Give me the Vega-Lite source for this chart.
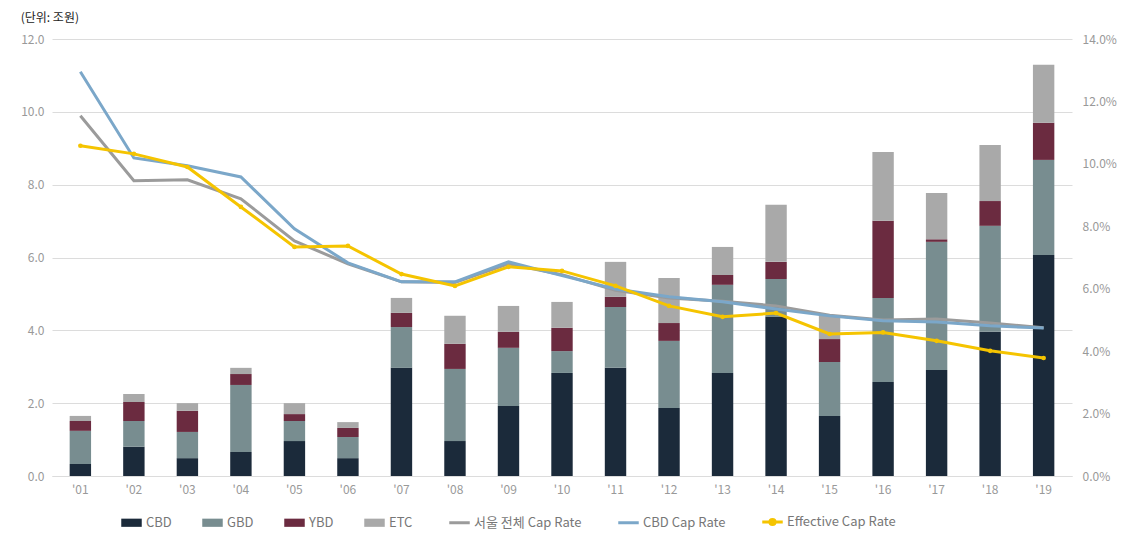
{
  "$schema": "https://vega.github.io/schema/vega-lite/v6.json",
  "width": 1020,
  "height": 437,
  "padding": {"left": 20, "top": 12, "right": 4, "bottom": 4},
  "background": "white",
  "title": {"text": "(단위: 조원)", "anchor": "start", "frame": "bounds", "font": "Noto Sans CJK KR", "fontSize": 12, "fontWeight": "normal", "color": "#222222", "offset": 8},
  "config": {
    "font": "Noto Sans CJK KR",
    "view": {"stroke": null},
    "axis": {"labelFont": "Noto Sans CJK KR", "labelFontSize": 12, "labelColor": "#999999", "ticks": false, "domain": false, "gridColor": "#dcdcdc", "gridWidth": 1},
    "legend": {"labelFont": "Noto Sans CJK KR", "labelFontSize": 13, "labelColor": "#777777"}
  },
  "datasets": {
    "types": [
      {"type": "CBD", "rank": 1}, {"type": "GBD", "rank": 2}, {"type": "YBD", "rank": 3}, {"type": "ETC", "rank": 4}
    ],
    "bars": [
      {"year": "'01", "type": "CBD", "value": 0.33}, {"year": "'01", "type": "GBD", "value": 0.91}, {"year": "'01", "type": "YBD", "value": 0.27}, {"year": "'01", "type": "ETC", "value": 0.14},
      {"year": "'02", "type": "CBD", "value": 0.80}, {"year": "'02", "type": "GBD", "value": 0.71}, {"year": "'02", "type": "YBD", "value": 0.52}, {"year": "'02", "type": "ETC", "value": 0.22},
      {"year": "'03", "type": "CBD", "value": 0.49}, {"year": "'03", "type": "GBD", "value": 0.72}, {"year": "'03", "type": "YBD", "value": 0.58}, {"year": "'03", "type": "ETC", "value": 0.21},
      {"year": "'04", "type": "CBD", "value": 0.66}, {"year": "'04", "type": "GBD", "value": 1.84}, {"year": "'04", "type": "YBD", "value": 0.30}, {"year": "'04", "type": "ETC", "value": 0.17},
      {"year": "'05", "type": "CBD", "value": 0.96}, {"year": "'05", "type": "GBD", "value": 0.55}, {"year": "'05", "type": "YBD", "value": 0.19}, {"year": "'05", "type": "ETC", "value": 0.30},
      {"year": "'06", "type": "CBD", "value": 0.49}, {"year": "'06", "type": "GBD", "value": 0.58}, {"year": "'06", "type": "YBD", "value": 0.25}, {"year": "'06", "type": "ETC", "value": 0.16},
      {"year": "'07", "type": "CBD", "value": 2.97}, {"year": "'07", "type": "GBD", "value": 1.12}, {"year": "'07", "type": "YBD", "value": 0.39}, {"year": "'07", "type": "ETC", "value": 0.41},
      {"year": "'08", "type": "CBD", "value": 0.96}, {"year": "'08", "type": "GBD", "value": 1.98}, {"year": "'08", "type": "YBD", "value": 0.69}, {"year": "'08", "type": "ETC", "value": 0.77},
      {"year": "'09", "type": "CBD", "value": 1.92}, {"year": "'09", "type": "GBD", "value": 1.60}, {"year": "'09", "type": "YBD", "value": 0.44}, {"year": "'09", "type": "ETC", "value": 0.71},
      {"year": "'10", "type": "CBD", "value": 2.83}, {"year": "'10", "type": "GBD", "value": 0.60}, {"year": "'10", "type": "YBD", "value": 0.64}, {"year": "'10", "type": "ETC", "value": 0.71},
      {"year": "'11", "type": "CBD", "value": 2.97}, {"year": "'11", "type": "GBD", "value": 1.67}, {"year": "'11", "type": "YBD", "value": 0.28}, {"year": "'11", "type": "ETC", "value": 0.96},
      {"year": "'12", "type": "CBD", "value": 1.87}, {"year": "'12", "type": "GBD", "value": 1.84}, {"year": "'12", "type": "YBD", "value": 0.49}, {"year": "'12", "type": "ETC", "value": 1.24},
      {"year": "'13", "type": "CBD", "value": 2.83}, {"year": "'13", "type": "GBD", "value": 2.42}, {"year": "'13", "type": "YBD", "value": 0.27}, {"year": "'13", "type": "ETC", "value": 0.77},
      {"year": "'14", "type": "CBD", "value": 4.37}, {"year": "'14", "type": "GBD", "value": 1.04}, {"year": "'14", "type": "YBD", "value": 0.47}, {"year": "'14", "type": "ETC", "value": 1.57},
      {"year": "'15", "type": "CBD", "value": 1.65}, {"year": "'15", "type": "GBD", "value": 1.48}, {"year": "'15", "type": "YBD", "value": 0.63}, {"year": "'15", "type": "ETC", "value": 0.66},
      {"year": "'16", "type": "CBD", "value": 2.58}, {"year": "'16", "type": "GBD", "value": 2.31}, {"year": "'16", "type": "YBD", "value": 2.12}, {"year": "'16", "type": "ETC", "value": 1.89},
      {"year": "'17", "type": "CBD", "value": 2.91}, {"year": "'17", "type": "GBD", "value": 3.52}, {"year": "'17", "type": "YBD", "value": 0.07}, {"year": "'17", "type": "ETC", "value": 1.27},
      {"year": "'18", "type": "CBD", "value": 3.96}, {"year": "'18", "type": "GBD", "value": 2.91}, {"year": "'18", "type": "YBD", "value": 0.68}, {"year": "'18", "type": "ETC", "value": 1.54},
      {"year": "'19", "type": "CBD", "value": 6.07}, {"year": "'19", "type": "GBD", "value": 2.61}, {"year": "'19", "type": "YBD", "value": 1.02}, {"year": "'19", "type": "ETC", "value": 1.59}
    ],
    "lines": [
      {"year": "'01", "series": "서울 전체 Cap Rate", "rate": 0.1154}, {"year": "'02", "series": "서울 전체 Cap Rate", "rate": 0.0946}, {"year": "'03", "series": "서울 전체 Cap Rate", "rate": 0.0949}, {"year": "'04", "series": "서울 전체 Cap Rate", "rate": 0.0888}, {"year": "'05", "series": "서울 전체 Cap Rate", "rate": 0.0753}, {"year": "'06", "series": "서울 전체 Cap Rate", "rate": 0.068}, {"year": "'07", "series": "서울 전체 Cap Rate", "rate": 0.0622}, {"year": "'08", "series": "서울 전체 Cap Rate", "rate": 0.062}, {"year": "'09", "series": "서울 전체 Cap Rate", "rate": 0.068}, {"year": "'10", "series": "서울 전체 Cap Rate", "rate": 0.0645}, {"year": "'11", "series": "서울 전체 Cap Rate", "rate": 0.0595}, {"year": "'12", "series": "서울 전체 Cap Rate", "rate": 0.057}, {"year": "'13", "series": "서울 전체 Cap Rate", "rate": 0.056}, {"year": "'14", "series": "서울 전체 Cap Rate", "rate": 0.0545}, {"year": "'15", "series": "서울 전체 Cap Rate", "rate": 0.0515}, {"year": "'16", "series": "서울 전체 Cap Rate", "rate": 0.050}, {"year": "'17", "series": "서울 전체 Cap Rate", "rate": 0.0503}, {"year": "'18", "series": "서울 전체 Cap Rate", "rate": 0.049}, {"year": "'19", "series": "서울 전체 Cap Rate", "rate": 0.0475},
      {"year": "'01", "series": "CBD Cap Rate", "rate": 0.1295}, {"year": "'02", "series": "CBD Cap Rate", "rate": 0.1019}, {"year": "'03", "series": "CBD Cap Rate", "rate": 0.0994}, {"year": "'04", "series": "CBD Cap Rate", "rate": 0.0958}, {"year": "'05", "series": "CBD Cap Rate", "rate": 0.0792}, {"year": "'06", "series": "CBD Cap Rate", "rate": 0.0683}, {"year": "'07", "series": "CBD Cap Rate", "rate": 0.0622}, {"year": "'08", "series": "CBD Cap Rate", "rate": 0.0622}, {"year": "'09", "series": "CBD Cap Rate", "rate": 0.0686}, {"year": "'10", "series": "CBD Cap Rate", "rate": 0.0642}, {"year": "'11", "series": "CBD Cap Rate", "rate": 0.0599}, {"year": "'12", "series": "CBD Cap Rate", "rate": 0.0574}, {"year": "'13", "series": "CBD Cap Rate", "rate": 0.0558}, {"year": "'14", "series": "CBD Cap Rate", "rate": 0.0535}, {"year": "'15", "series": "CBD Cap Rate", "rate": 0.0513}, {"year": "'16", "series": "CBD Cap Rate", "rate": 0.0497}, {"year": "'17", "series": "CBD Cap Rate", "rate": 0.0493}, {"year": "'18", "series": "CBD Cap Rate", "rate": 0.0481}, {"year": "'19", "series": "CBD Cap Rate", "rate": 0.0474},
      {"year": "'01", "series": "Effective Cap Rate", "rate": 0.1058}, {"year": "'02", "series": "Effective Cap Rate", "rate": 0.1032}, {"year": "'03", "series": "Effective Cap Rate", "rate": 0.099}, {"year": "'04", "series": "Effective Cap Rate", "rate": 0.0862}, {"year": "'05", "series": "Effective Cap Rate", "rate": 0.0734}, {"year": "'06", "series": "Effective Cap Rate", "rate": 0.0737}, {"year": "'07", "series": "Effective Cap Rate", "rate": 0.0647}, {"year": "'08", "series": "Effective Cap Rate", "rate": 0.0609}, {"year": "'09", "series": "Effective Cap Rate", "rate": 0.067}, {"year": "'10", "series": "Effective Cap Rate", "rate": 0.0657}, {"year": "'11", "series": "Effective Cap Rate", "rate": 0.0609}, {"year": "'12", "series": "Effective Cap Rate", "rate": 0.0545}, {"year": "'13", "series": "Effective Cap Rate", "rate": 0.051}, {"year": "'14", "series": "Effective Cap Rate", "rate": 0.0522}, {"year": "'15", "series": "Effective Cap Rate", "rate": 0.0455}, {"year": "'16", "series": "Effective Cap Rate", "rate": 0.046}, {"year": "'17", "series": "Effective Cap Rate", "rate": 0.0433}, {"year": "'18", "series": "Effective Cap Rate", "rate": 0.0401}, {"year": "'19", "series": "Effective Cap Rate", "rate": 0.0378}
    ]
  },
  "encoding": {
    "x": {"field": "year", "type": "ordinal", "title": null, "scale": {"paddingInner": 0.6, "paddingOuter": 0.33},
      "axis": {"labelAngle": 0, "labelPadding": 8, "domain": true, "domainColor": "#dcdcdc"}}
  },
  "layer": [
    {
      "data": {"name": "bars"},
      "transform": [{"lookup": "type", "from": {"data": {"name": "types"}, "key": "type", "fields": ["rank"]}}],
      "mark": {"type": "bar"},
      "encoding": {
        "y": {"field": "value", "type": "quantitative", "stack": "zero", "title": null,
          "scale": {"domain": [0, 12], "nice": false},
          "axis": {"values": [0, 2, 4, 6, 8, 10, 12], "format": ".1f", "grid": true, "labelPadding": 8, "orient": "left"}},
        "order": {"field": "rank", "type": "quantitative", "sort": "ascending"},
        "color": {"field": "type", "type": "nominal",
          "scale": {"domain": ["CBD", "GBD", "YBD", "ETC", "서울 전체 Cap Rate", "CBD Cap Rate", "Effective Cap Rate"],
                    "range": ["#1b2a3a", "#788d90", "#6b2b40", "#a9a9a9", "#9b9b9b", "#7ba7c9", "#f5c400"]},
          "legend": {"title": null, "orient": "none", "legendX": 73, "legendY": 476, "direction": "horizontal", "symbolSize": 420, "columnPadding": 30, "labelOffset": 8,
            "encode": {"symbols": {"update": {
              "shape": {"signal": "indexof(['CBD','GBD','YBD','ETC'], datum.value) >= 0 ? 'M-1,-0.4H1V0.4H-1Z' : (datum.value == 'Effective Cap Rate' ? 'M-1,0H1M0.25,0A0.25,0.25 0 1,1 -0.25,0A0.25,0.25 0 1,1 0.25,0' : 'stroke')"},
              "fill": {"scale": "color", "field": "value"},
              "stroke": {"scale": "color", "field": "value"},
              "strokeWidth": {"signal": "indexof(['CBD','GBD','YBD','ETC'], datum.value) >= 0 ? 0 : 3"},
              "opacity": {"value": 1},
              "fillOpacity": {"value": 1}
            }}}}
        }
      }
    },
    {
      "data": {"name": "lines"},
      "layer": [
        {
          "mark": {"type": "line", "strokeWidth": 3},
          "encoding": {
            "y": {"field": "rate", "type": "quantitative", "title": null, "scale": {"domain": [0, 0.14], "nice": false},
              "axis": {"values": [0, 0.02, 0.04, 0.06, 0.08, 0.1, 0.12, 0.14], "format": ".1%", "grid": false, "orient": "right", "labelPadding": 10}},
            "color": {"field": "series", "type": "nominal"}
          }
        },
        {
          "transform": [{"filter": "datum.series == 'Effective Cap Rate'"}],
          "mark": {"type": "point", "filled": true, "size": 22, "opacity": 1},
          "encoding": {
            "y": {"field": "rate", "type": "quantitative", "scale": {"domain": [0, 0.14], "nice": false}},
            "color": {"field": "series", "type": "nominal"}
          }
        }
      ]
    }
  ],
  "resolve": {"scale": {"y": "independent"}}
}
